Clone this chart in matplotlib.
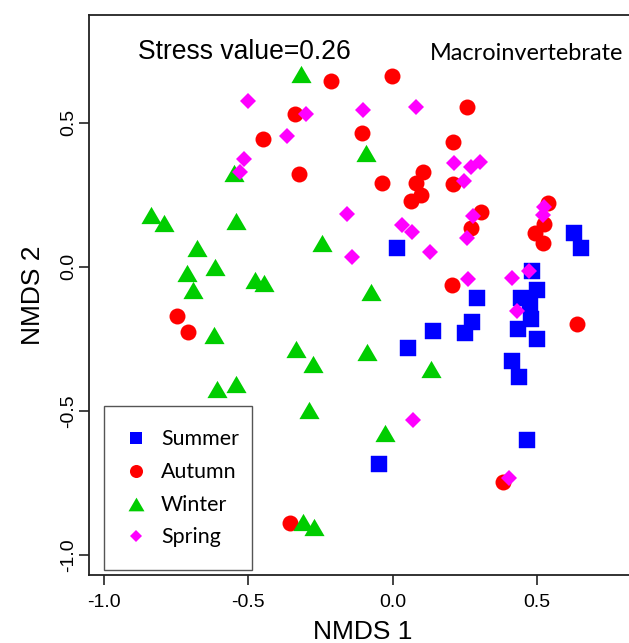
import matplotlib.pyplot as plt
from matplotlib.path import Path
from matplotlib.patches import Rectangle

plt.rcParams['font.family'] = ['Liberation Sans', 'DejaVu Sans']

# NMDS scores
summer_x = [0.015, 0.627, 0.652, 0.482, 0.292, 0.499, 0.444, 0.475, 0.478, 0.434,
            0.499, 0.274, 0.250, 0.413, 0.437, 0.465, 0.053, 0.139, -0.047]
summer_y = [0.065, 0.117, 0.065, -0.015, -0.109, -0.081, -0.109, -0.130, -0.182, -0.216,
            -0.251, -0.192, -0.230, -0.327, -0.383, -0.602, -0.282, -0.223, -0.685]

autumn_x = [-0.213, -0.002, -0.338, -0.449, -0.106, -0.324, -0.037, 0.105, 0.081, 0.098,
            0.063, 0.209, 0.209, 0.257, 0.306, 0.271, 0.537, 0.524, 0.492, 0.520,
            0.205, 0.638, 0.382, -0.746, -0.708, -0.355]
autumn_y = [0.645, 0.662, 0.530, 0.443, 0.464, 0.322, 0.291, 0.329, 0.291, 0.249,
            0.228, 0.433, 0.287, 0.555, 0.190, 0.134, 0.221, 0.148, 0.117, 0.082,
            -0.064, -0.199, -0.748, -0.171, -0.227, -0.890]

winter_x = [-0.317, -0.092, -0.549, -0.836, -0.791, -0.542, -0.245, -0.677, -0.615, -0.712,
            -0.476, -0.445, -0.691, -0.075, -0.618, -0.335, -0.276, -0.089, 0.133, -0.608,
            -0.542, -0.290, -0.027, -0.310, -0.272]
winter_y = [0.669, 0.395, 0.325, 0.180, 0.152, 0.159, 0.082, 0.065, -0.001, -0.022,
            -0.046, -0.057, -0.081, -0.088, -0.237, -0.286, -0.338, -0.296, -0.355, -0.425,
            -0.407, -0.498, -0.577, -0.886, -0.904]

spring_x = [-0.501, -0.300, -0.366, -0.103, 0.081, -0.515, -0.528, -0.158, 0.032, 0.067,
            -0.141, 0.129, 0.212, 0.271, 0.302, 0.247, 0.278, 0.257, 0.524, 0.520,
            0.261, 0.413, 0.472, 0.430, 0.402, 0.070]
spring_y = [0.575, 0.530, 0.454, 0.544, 0.555, 0.374, 0.329, 0.183, 0.145, 0.120,
            0.034, 0.051, 0.360, 0.346, 0.364, 0.298, 0.176, 0.100, 0.207, 0.180,
            -0.043, -0.039, -0.015, -0.154, -0.734, -0.532]

seasons = ['Summer', 'Autumn', 'Winter', 'Spring']
colors = ['#0000FF', '#FF0000', '#00CD00', '#FF00FF']
ticks = [-1.0, -0.5, 0.0, 0.5]
tick_labels = ['-1.0', '-0.5', '0.0', '0.5']

# R style solid triangle (a bit wider than tall)
tri = Path([(-1, -0.857), (1, -0.857), (0, 0.857), (-1, -0.857)],
           [Path.MOVETO, Path.LINETO, Path.LINETO, Path.CLOSEPOLY])

W, H = 629, 643
fig = plt.figure(figsize=(W / 100, H / 100), dpi=100)

# plot box in pixels, right edge falls just outside the picture
L, R, T, B = 89, 636, 15, 575
ax = fig.add_axes([L / W, 1 - B / H, (R - L) / W, (B - T) / H])
ax.set_xlim(-1.051, 0.842)
ax.set_ylim(-1.0705, 0.874)

ax.plot(summer_x, summer_y, ls='none', marker='s', ms=11.5, color=colors[0], mec=colors[0], mew=0.3)
ax.plot(autumn_x, autumn_y, ls='none', marker='o', ms=11.5, color=colors[1], mew=0)
ax.plot(winter_x, winter_y, ls='none', marker=tri, ms=14.5, color=colors[2], mew=0)
ax.plot(spring_x, spring_y, ls='none', marker='D', ms=7.8, color=colors[3], mew=0)

for s in ['left', 'bottom', 'top']:
    ax.spines[s].set_linewidth(1.3)
    ax.spines[s].set_color('#222222')
ax.spines['right'].set_visible(False)

ax.set_xticks(ticks)
ax.set_xticklabels(tick_labels)
ax.set_yticks(ticks)
ax.set_yticklabels(tick_labels, rotation=90, va='center')
ax.tick_params(axis='x', length=7, width=1.2, labelsize=14, pad=6.5, color='#222222')
ax.tick_params(axis='y', length=7, width=1.2, labelsize=14, pad=1.5, color='#222222')

ax.set_xlabel('NMDS 1', fontsize=19)
ax.xaxis.set_label_coords(0.5, (575 - 620) / 560)
ax.set_ylabel('NMDS 2', fontsize=19)
ax.yaxis.set_label_coords((45 - L) / (R - L), 0.5)

fig.text(138 / W, 1 - 59 / H, 'Stress value=0.26', fontsize=19.1, ha='left', va='baseline')
fig.text(430 / W, 1 - 60 / H, 'Macroinvertebrate', fontsize=16.9, family='Lato',
         ha='left', va='baseline')

# legend box drawn by hand
ax.add_patch(Rectangle((104 / W, 1 - 570 / H), 148 / W, 164 / H, transform=fig.transFigure,
                       facecolor='white', edgecolor='#555555', lw=1.0, clip_on=False, zorder=5))
leg_markers = ['s', 'o', tri, 'D']
leg_sizes = [8.6, 9.4, 11.5, 6.0]
rows = [438, 471, 504, 536]
for lab, col, mk, sz, yy in zip(seasons, colors, leg_markers, leg_sizes, rows):
    ax.plot([136 / W], [1 - yy / H], ls='none', marker=mk, ms=sz, color=col, mew=0,
            transform=fig.transFigure, clip_on=False, zorder=6)
    fig.text(161 / W, 1 - (yy + 7) / H, lab, fontsize=15.4, family='Lato',
             ha='left', va='baseline', zorder=7)

fig.savefig('out.png', dpi=100)
